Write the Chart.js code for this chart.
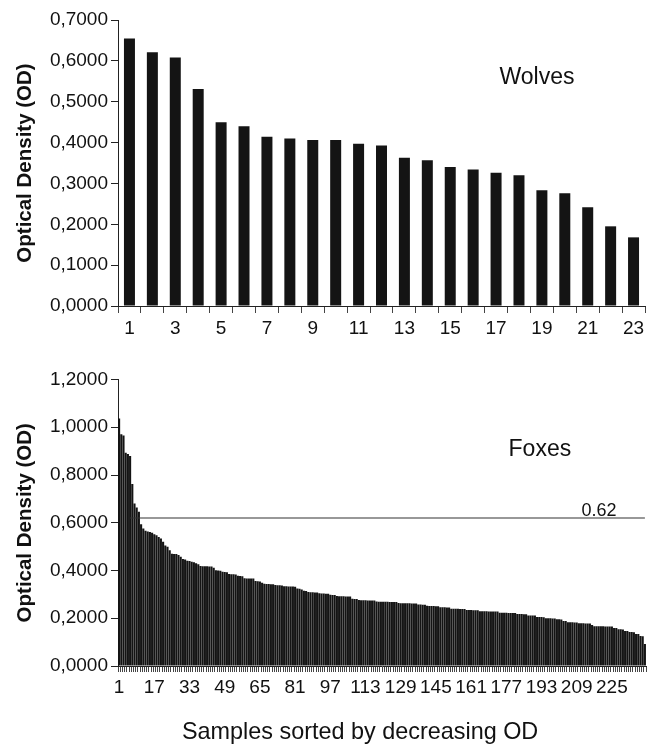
<!DOCTYPE html>
<html lang="en">
<head>
    <meta charset="UTF-8">
    <title>Optical Density - Wolves and Foxes</title>
    <script src="https://cdn.jsdelivr.net/npm/chart.js"></script>
    <style>
        body { margin: 0; background: #fff; }
        #wrap { position: relative; width: 656px; height: 748px; }
        canvas { position: absolute; left: 0; }
        #xTitle {
            position: absolute; left: 182px; top: 720px;
            font: 23.4px "Liberation Sans", Arial, sans-serif;
            line-height: 23px; color: #111; white-space: nowrap;
        }
    </style>
</head>
<body>
<div id="wrap">
    <canvas id="wolfChart" width="656" height="345" style="top:0"></canvas>
    <canvas id="foxChart" width="656" height="403" style="top:345px"></canvas>
    <div id="xTitle">Samples sorted by decreasing OD</div>
</div>

<script>
    // Wolves: 23 samples, sorted by decreasing OD
    var wolfLabels = ['1','2','3','4','5','6','7','8','9','10','11','12','13','14','15','16','17','18','19','20','21','22','23'];
    var wolfValues = [0.655, 0.621, 0.608, 0.531, 0.450, 0.440, 0.414, 0.410, 0.406, 0.406, 0.397, 0.393,
                      0.363, 0.357, 0.340, 0.334, 0.326, 0.320, 0.283, 0.276, 0.242, 0.195, 0.168];
    var wolfTickLabels = ['1','3','5','7','9','11','13','15','17','19','21','23'];

    // Foxes: 240 samples, sorted by decreasing OD
    var foxValues = [
        1.037, 0.971, 0.965, 0.893, 0.888, 0.880, 0.762, 0.681, 0.664, 0.646,
        0.594, 0.576, 0.566, 0.563, 0.561, 0.558, 0.552, 0.548, 0.540, 0.534,
        0.520, 0.505, 0.499, 0.485, 0.470, 0.469, 0.469, 0.465, 0.458, 0.448,
        0.446, 0.441, 0.440, 0.437, 0.435, 0.430, 0.426, 0.419, 0.418, 0.418,
        0.418, 0.417, 0.417, 0.412, 0.401, 0.400, 0.399, 0.395, 0.394, 0.393,
        0.385, 0.384, 0.384, 0.383, 0.378, 0.377, 0.376, 0.368, 0.367, 0.367,
        0.366, 0.366, 0.356, 0.355, 0.354, 0.349, 0.344, 0.343, 0.343, 0.342,
        0.342, 0.339, 0.338, 0.338, 0.337, 0.334, 0.334, 0.333, 0.333, 0.333,
        0.332, 0.325, 0.324, 0.320, 0.315, 0.314, 0.310, 0.309, 0.309, 0.308,
        0.308, 0.305, 0.304, 0.304, 0.303, 0.303, 0.298, 0.297, 0.297, 0.293,
        0.292, 0.292, 0.292, 0.291, 0.291, 0.291, 0.282, 0.281, 0.281, 0.276,
        0.275, 0.275, 0.275, 0.274, 0.274, 0.274, 0.274, 0.270, 0.269, 0.269,
        0.269, 0.269, 0.269, 0.268, 0.268, 0.268, 0.268, 0.264, 0.263, 0.263,
        0.263, 0.263, 0.263, 0.262, 0.262, 0.262, 0.258, 0.258, 0.257, 0.257,
        0.252, 0.251, 0.251, 0.251, 0.250, 0.250, 0.246, 0.246, 0.246, 0.245,
        0.245, 0.240, 0.240, 0.240, 0.240, 0.239, 0.239, 0.239, 0.235, 0.235,
        0.235, 0.234, 0.234, 0.234, 0.229, 0.229, 0.229, 0.229, 0.228, 0.228,
        0.228, 0.228, 0.228, 0.223, 0.223, 0.223, 0.223, 0.222, 0.222, 0.222,
        0.222, 0.218, 0.218, 0.218, 0.217, 0.217, 0.212, 0.212, 0.212, 0.211,
        0.205, 0.205, 0.205, 0.204, 0.200, 0.200, 0.200, 0.199, 0.199, 0.196,
        0.196, 0.195, 0.188, 0.188, 0.183, 0.183, 0.183, 0.182, 0.182, 0.179,
        0.179, 0.179, 0.178, 0.178, 0.178, 0.172, 0.166, 0.166, 0.166, 0.166,
        0.166, 0.165, 0.165, 0.165, 0.165, 0.159, 0.159, 0.154, 0.154, 0.153,
        0.147, 0.147, 0.142, 0.142, 0.141, 0.134, 0.134, 0.126, 0.125, 0.092
    ];
    // sample numbers 1..240 as categories
    var foxLabels = foxValues.map(function(v, i) { return String(i + 1); });
    var foxTickLabels = ['1','17','33','49','65','81','97','113','129','145','161','177','193','209','225'];
    var foxThreshold = 0.62;
    var foxLineStart = 5; // the cut-off line starts at sample 6

    Chart.defaults.font.family = '"Liberation Sans", Arial, sans-serif';
    Chart.defaults.color = '#111';

    function odFormat(v) {
        return v.toFixed(4).replace('.', ',');
    }

    // in-plot notes (group names, cut-off value)
    var notesPlugin = {
        id: 'notes',
        afterDatasetsDraw: function(chart, args, opts) {
            var ctx = chart.ctx, area = chart.chartArea, y = chart.scales.y;
            ctx.save();
            ctx.fillStyle = '#111';
            ctx.textAlign = 'center';
            ctx.textBaseline = 'middle';
            (opts.items || []).forEach(function(n) {
                ctx.font = n.size + 'px "Liberation Sans", Arial, sans-serif';
                ctx.fillText(n.text, area.left + n.x * area.width, y.getPixelForValue(n.value));
            });
            ctx.restore();
        }
    };

    function yAxis(max, step, width) {
        return {
            min: 0, max: max,
            afterFit: function(s) { s.width = width; },
            ticks: { stepSize: step, callback: odFormat, font: { size: 19 }, padding: 3 },
            grid: { drawOnChartArea: false, tickLength: 7, color: '#222' },
            border: { color: '#222', width: 1 },
            title: { display: true, text: 'Optical Density (OD)', font: { size: 20.5, weight: 'bold' }, padding: { top: 13, bottom: 0 } }
        };
    }

    function xAxis(height, shown, tickLen) {
        return {
            afterFit: function(s) { s.height = height; },
            ticks: {
                autoSkip: false, maxRotation: 0, minRotation: 0, font: { size: 19 }, padding: 4,
                callback: function(val) {
                    var lab = this.getLabelForValue(val);
                    return shown.indexOf(lab) >= 0 ? lab : '';
                }
            },
            grid: { offset: true, drawOnChartArea: false, tickLength: tickLen, color: '#444' },
            border: { color: '#222', width: 1 }
        };
    }

    new Chart(document.getElementById('wolfChart'), {
        type: 'bar',
        data: {
            labels: wolfLabels,
            datasets: [{
                data: wolfValues,
                backgroundColor: '#141414',
                categoryPercentage: 1,
                barPercentage: 0.48
            }]
        },
        options: {
            responsive: false,
            animation: false,
            layout: { padding: { top: 20, right: 11, bottom: 0, left: 0 } },
            plugins: {
                legend: { display: false },
                tooltip: { enabled: false },
                notes: { items: [{ text: 'Wolves', x: 0.795, value: 0.558, size: 23 }] }
            },
            scales: {
                x: xAxis(39, wolfTickLabels, 7),
                y: yAxis(0.7, 0.1, 118)
            }
        },
        plugins: [notesPlugin]
    });

    new Chart(document.getElementById('foxChart'), {
        type: 'bar',
        data: {
            labels: foxLabels,
            datasets: [{
                type: 'line',
                data: foxLabels.map(function(l, i) { return i >= foxLineStart ? foxThreshold : null; }),
                borderColor: '#333',
                borderWidth: 1.2,
                pointRadius: 0,
                order: 0
            }, {
                data: foxValues,
                backgroundColor: '#141414',
                categoryPercentage: 1,
                barPercentage: 0.96,
                order: 1
            }]
        },
        options: {
            responsive: false,
            animation: false,
            layout: { padding: { top: 34.5, right: 10, bottom: 0, left: 0 } },
            plugins: {
                legend: { display: false },
                tooltip: { enabled: false },
                notes: { items: [
                    { text: 'Foxes', x: 0.799, value: 0.905, size: 23 },
                    { text: '0.62', x: 0.911, value: 0.651, size: 18 }
                ] }
            },
            scales: {
                x: xAxis(82, foxTickLabels, 6),
                y: yAxis(1.2, 0.2, 118)
            }
        },
        plugins: [notesPlugin]
    });
</script>
</body>
</html>
